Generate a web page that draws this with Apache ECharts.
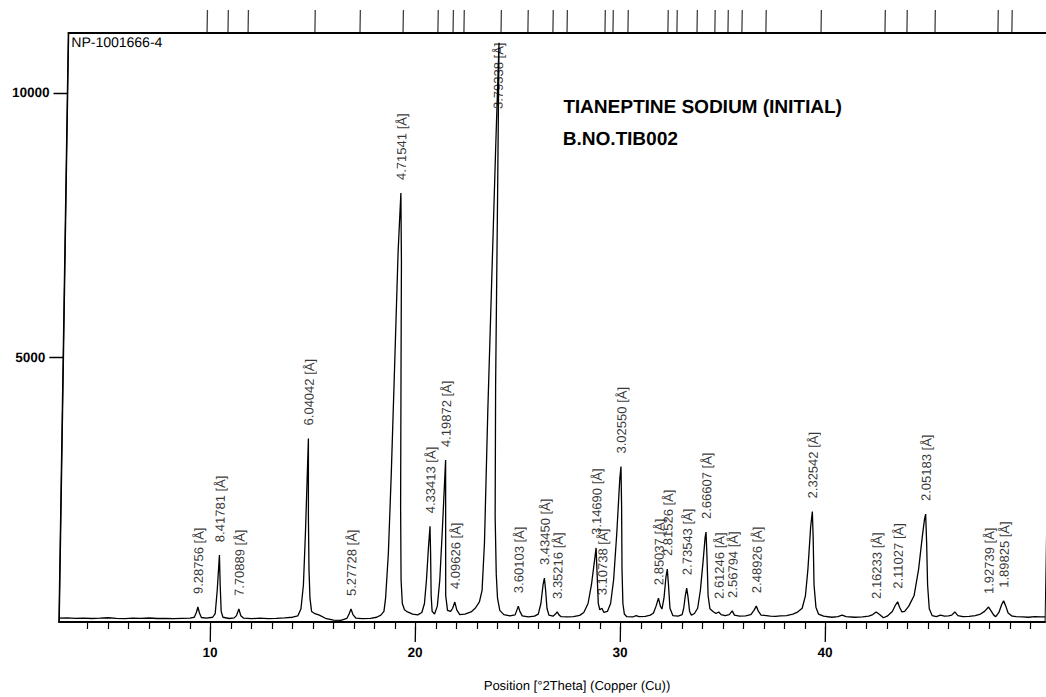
<!DOCTYPE html>
<html>
<head>
<meta charset="utf-8">
<script src="https://cdn.jsdelivr.net/npm/echarts@6/dist/echarts.min.js"></script>
<style>
html,body{margin:0;padding:0;background:#fff;overflow:hidden;}
#c{width:1046px;height:697px;transform:skewX(-0.916deg);transform-origin:0 627px;}
</style>
</head>
<body>
<div id="c"></div>
<script>
// ---- data ----
const xMin = 2.61, xMax = 50.71;
const yMax = 11134;
const minorTicks = [4,5,6,7,8,9,10,11,12,13,14,15,16,17,18,19,20,21,22,23,24,25,26,27,28,29,30,31,32,33,34,35,36,37,38,39,40,41,42,43,44,45,46,47,48,49,50];
const majorTicks = [10,20,30,40];
const yTicks = [5000,10000];

// diffraction profile [2theta, counts]
const profile = [
[2.61,72],[3.0,78],[3.4,68],[3.8,74],[4.2,66],[4.6,72],[5.0,80],[5.4,70],[5.8,64],[6.2,72],[6.6,68],[7.0,76],[7.4,66],[7.8,70],[8.2,62],[8.6,70],[9.0,74],
[9.2,90],[9.3,180],[9.37,283],[9.45,170],[9.55,85],[9.8,72],[10.1,90],
[10.22,160],[10.3,600],[10.38,1264],[10.44,700],[10.51,200],[10.6,90],[10.9,66],[11.15,78],
[11.26,120],[11.37,245],[11.47,120],[11.6,75],[12.0,62],[12.4,72],[12.8,64],[13.2,70],[13.6,78],[14.0,90],[14.25,115],
[14.4,250],[14.5,700],[14.56,1700],[14.63,3470],[14.69,2000],[14.76,1000],[14.83,450],[14.92,200],[15.05,165],[15.3,130],[15.6,70],[16.0,35],[16.35,30],[16.65,70],
[16.75,150],[16.84,245],[16.94,140],[17.08,75],[17.4,62],[17.8,68],[18.1,90],[18.3,130],
[18.45,200],[18.52,450],[18.62,1300],[18.7,2800],[18.77,4600],[18.86,7000],[18.95,8110],[19.03,6800],[19.1,4600],[19.18,2200],[19.26,800],[19.34,350],[19.45,230],[19.6,190],[19.85,150],[20.1,135],[20.3,180],
[20.42,350],[20.5,800],[20.57,1400],[20.63,1810],[20.68,1300],[20.74,500],[20.8,200],[20.92,150],[21.05,300],[21.15,800],[21.24,1800],[21.34,3060],[21.39,1900],[21.45,500],[21.55,220],[21.7,200],
[21.8,260],[21.9,377],[22.0,230],[22.15,140],[22.4,150],[22.7,190],[22.9,260],[23.1,380],[23.22,600],
[23.3,1500],[23.36,4000],[23.45,6500],[23.54,9000],[23.62,10950],[23.67,8000],[23.72,4500],[23.8,2000],[23.9,900],[23.98,450],[24.1,220],[24.3,140],[24.6,115],[24.85,135],
[24.93,220],[25.0,300],[25.08,200],[25.2,115],[25.5,95],[25.8,110],[25.98,150],
[26.1,350],[26.19,700],[26.25,830],[26.32,600],[26.4,260],[26.5,130],[26.7,110],[26.82,150],[26.9,190],[27.0,130],[27.1,100],[27.4,95],[27.7,100],[28.0,125],[28.2,180],
[28.4,350],[28.55,700],[28.68,1150],[28.75,1400],[28.82,900],[28.9,350],[28.98,230],[29.08,260],[29.18,180],[29.35,200],[29.5,350],[29.63,800],[29.75,1700],[29.85,2700],[29.9,2940],[29.96,2200],[30.03,1000],[30.1,350],[30.18,150],[30.3,100],
[30.6,95],[30.75,120],[30.9,100],[31.2,105],[31.45,130],[31.6,170],[31.72,300],[31.83,450],[31.93,300],[32.01,245],[32.1,450],[32.18,850],[32.24,1000],[32.31,700],[32.4,260],[32.55,120],[32.8,110],[33.0,140],
[33.07,260],[33.14,500],[33.2,640],[33.27,480],[33.36,200],[33.45,130],[33.6,160],[33.75,260],[33.87,600],[33.98,1150],[34.06,1600],[34.1,1700],[34.17,1200],[34.25,500],[34.35,250],[34.5,200],
[34.65,160],[34.78,190],[34.9,140],[35.1,120],[35.3,140],[35.44,210],[35.55,130],[35.8,110],[36.1,115],[36.35,140],[36.5,220],[36.61,300],[36.72,200],[36.85,130],[37.1,120],[37.3,110],[37.55,105],[37.8,115],[38.1,120],[38.4,150],
[38.6,180],[38.85,260],[39.0,500],[39.1,1000],[39.2,1800],[39.27,2090],[39.33,1600],[39.41,700],[39.52,280],[39.65,150],[39.9,110],[40.3,90],[40.6,100],[40.8,130],[41.0,100],[41.4,90],[41.8,95],[42.1,110],
[42.3,140],[42.46,190],[42.6,150],[42.82,80],[43.0,110],[43.25,200],[43.4,320],[43.5,383],[43.6,280],[43.72,190],[43.85,200],[44.05,300],[44.3,500],[44.5,1000],[44.65,1600],[44.75,1950],[44.8,2040],[44.87,1500],[44.95,700],[45.05,250],[45.2,120],
[45.4,100],[45.6,130],[45.8,110],[46.0,115],[46.15,130],[46.3,190],[46.45,120],[46.7,100],[47.0,105],[47.3,120],[47.55,150],[47.75,200],[47.94,283],[48.05,220],[48.2,130],[48.3,100],[48.45,180],[48.58,330],[48.67,400],[48.78,300],[48.9,170],[49.1,110],[49.3,100],[49.6,95],[49.9,90],[50.2,100],[50.5,95],[50.71,95]
];

// labelled peaks: d-spacing text, 2theta position, peak height
const peakD = ['9.28756','8.41781','7.70889','6.04042','5.27728','4.71541','4.33413','4.19872','4.09626','3.79338','3.60103','3.43450','3.35216','3.14690','3.10738','3.02550','2.85037','2.81526','2.73543','2.66607','2.61246','2.56794','2.48926','2.32542','2.16233','2.11027','2.05183','1.92739','1.89825'];
const peakX = [9.37,10.38,11.37,14.63,16.84,18.95,20.63,21.34,21.9,23.62,25.0,26.25,26.9,28.75,29.08,29.9,31.83,32.24,33.2,34.1,34.78,35.44,36.61,39.27,42.46,43.5,44.8,47.94,48.67];
const peakH = [283,1264,245,3470,245,8110,1810,3060,377,10950,300,830,190,1400,260,2940,450,1000,640,1700,190,210,300,2090,190,383,2040,283,400];
const labelCap = 9450; // labels of off-scale peaks are kept inside the frame

// reference-pattern stick positions (top strip)
const stickX = [9.37,10.39,11.37,14.63,16.83,18.93,20.63,21.37,21.90,23.71,25.02,26.24,26.93,28.78,29.17,29.90,31.85,32.29,33.27,34.14,34.78,35.46,36.63,39.32,42.44,43.51,44.88,47.95,48.63];

const sampleId = 'NP-1001666-4';
const titleLines = ['TIANEPTINE SODIUM (INITIAL)', 'B.NO.TIB002'];
const xName = 'Position [°2Theta] (Copper (Cu))';

// ---- chart ----
const FONT = '"Liberation Sans", Arial, Helvetica, sans-serif';
const chart = echarts.init(document.getElementById('c'), null, {renderer: 'svg'});

const axisBase = {type: 'value', min: xMin, max: xMax, splitLine: {show: false}};

chart.setOption({
  animation: false,
  backgroundColor: '#fff',
  grid: [
    {left: 59, top: 33, width: 986, height: 589, show: true, borderColor: '#000', borderWidth: 1, backgroundColor: 'transparent'},
    {left: 59, top: 10, width: 986, height: 23}
  ],
  xAxis: [
    Object.assign({}, axisBase, {gridIndex: 0, position: 'bottom', offset: 5,
      axisLine: {show: true, lineStyle: {color: '#000', width: 1.8}},
      axisTick: {show: true, customValues: minorTicks, length: 7, lineStyle: {color: '#000', width: 1.2}},
      axisLabel: {show: false}}),
    Object.assign({}, axisBase, {gridIndex: 0, position: 'bottom', offset: 5,
      axisLine: {show: false},
      axisTick: {show: true, customValues: majorTicks, length: 15, lineStyle: {color: '#000', width: 1.3}},
      axisLabel: {show: true, customValues: majorTicks, margin: 18, fontSize: 13.5, fontWeight: 'bold', color: '#000', fontFamily: FONT,
        formatter: v => String(v)}}),
    Object.assign({}, axisBase, {gridIndex: 0, position: 'top',
      axisLine: {show: true, lineStyle: {color: '#000', width: 2}},
      axisTick: {show: false}, axisLabel: {show: false}}),
    Object.assign({}, axisBase, {gridIndex: 1, show: false})
  ],
  yAxis: [
    {type: 'value', gridIndex: 0, min: 0, max: yMax, splitLine: {show: false},
      axisLine: {show: true, lineStyle: {color: '#000', width: 1.6}},
      axisTick: {show: true, customValues: yTicks, length: 14, lineStyle: {color: '#000', width: 1.3}},
      axisLabel: {show: true, customValues: yTicks, margin: 18, fontSize: 13.5, fontWeight: 'bold', color: '#000', fontFamily: FONT,
        formatter: v => String(v)}},
    {type: 'value', gridIndex: 1, min: 0, max: 1, show: false}
  ],
  series: [
    {type: 'line', xAxisIndex: 0, yAxisIndex: 0, data: profile, showSymbol: false, symbol: 'none',
      lineStyle: {color: '#000', width: 1.3}, clip: true, silent: true},
    {type: 'scatter', xAxisIndex: 0, yAxisIndex: 0, symbolSize: 0, silent: true,
      data: peakX.map((x, i) => ({name: peakD[i], value: [x, Math.min(peakH[i], labelCap)]})),
      label: {show: true, position: 'top', distance: 13, rotate: 90, align: 'left', verticalAlign: 'middle',
        formatter: p => p.name + ' [Å]', fontSize: 13, color: '#000', fontFamily: FONT}},
    {type: 'scatter', xAxisIndex: 3, yAxisIndex: 1, symbol: 'rect', symbolSize: [1.3, 23], silent: true,
      itemStyle: {color: '#111'}, data: stickX.map(x => [x, 0.5])}
  ],
  graphic: [
    {type: 'text', left: 62, top: 35, style: {text: sampleId, font: '14px ' + FONT, fill: '#000'}},
    {type: 'text', left: 555, top: 97, style: {text: titleLines[0], font: 'bold 19px ' + FONT, fill: '#000', letterSpacing: -0.8}},
    {type: 'text', left: 555, top: 129, style: {text: titleLines[1], font: 'bold 19px ' + FONT, fill: '#000', letterSpacing: -0.8}},
    {type: 'text', x: 578, y: 686, style: {text: xName, font: '13px ' + FONT, fill: '#000', textAlign: 'center', textVerticalAlign: 'middle'}}
  ]
});
</script>
</body>
</html>
